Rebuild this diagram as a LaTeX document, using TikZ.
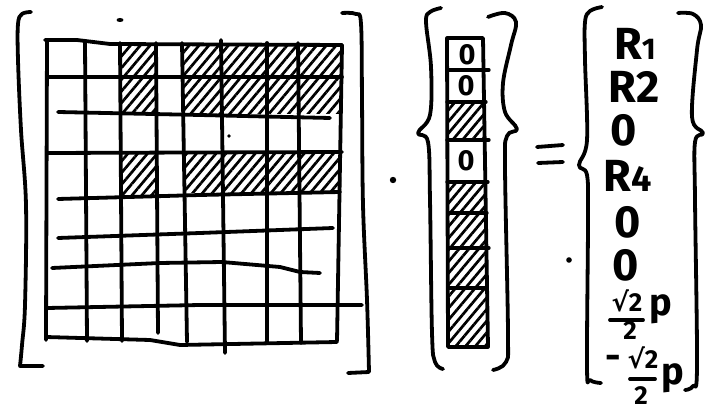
\documentclass[tikz,border=0pt]{standalone}
\usepackage{fontspec}
\setmainfont{Fira Sans}
\newfontfamily\symf{DejaVu Sans}
\usetikzlibrary{patterns.meta}
\tikzset{
  pen/.style={line width=3.8pt, line cap=round, line join=round},
  thinpen/.style={line width=3.2pt, line cap=round, line join=round},
  hatch/.style={pattern={Lines[angle=50,distance=7.5pt,line width=2.7pt]}, pattern color=black},
  txt/.style={inner sep=0pt, font=\fontsize{45}{45}\selectfont\bfseries},
  celltxt/.style={inner sep=0pt, font=\fontsize{29}{29}\selectfont\bfseries},
  fractxt/.style={inner sep=0pt, font=\fontsize{26}{26}\selectfont\bfseries},
  ptxt/.style={inner sep=0pt, font=\fontsize{38}{38}\selectfont\bfseries},
  spot/.style={fill=black}
}
\begin{document}
\begin{tikzpicture}[x=1pt,y=-1pt]
\useasboundingbox (0,0) rectangle (708,411);
% ---------- matrix hatching ----------
\fill[hatch] (121,44) rectangle (156,113);
\fill[hatch] (183,45) rectangle (341,114);
\fill[hatch] (121,154) rectangle (157,196);
\fill[hatch] (183,153) rectangle (341,193);
% ---------- matrix grid ----------
\draw[pen] (47,41) -- (46,340);
\draw[pen] (85,42) -- (87,341);
\draw[pen] (120,43) -- (122,341);
\draw[pen] (156,43) -- (158,333);
\draw[pen] (182,43) -- (187,342);
\draw[pen] (221,40) -- (225,353);
\draw[pen] (267,43) -- (267,343);
\draw[pen] (298,43) -- (301,343);
\draw[pen] (342,45) -- (337,341);
\draw[pen] (45,40) -- (77,40) -- (110,44) -- (342,45);
\draw[pen] (47,77) -- (342,77);
\draw[pen] (58,112) -- (200,115) -- (330,118);
\draw[pen] (47,153) -- (342,152);
\draw[pen] (58,199) -- (200,195) -- (340,192);
\draw[pen] (58,238) -- (200,233) -- (333,228);
\draw[pen] (52,268) -- (160,263) -- (222,262) -- (280,267) -- (300,272) -- (320,273);
\draw[pen] (47,308) -- (200,305) -- (362,305);
\draw[pen] (46,337) -- (150,340) -- (180,345) -- (337,342);
% ---------- matrix brackets ----------
\draw[pen] plot[smooth, tension=0.6] coordinates {(31,12) (22,14) (18,24) (18,60) (21,130) (26,205) (25,305) (22,345) (20,366)} -- (43,366);
\draw[pen] plot[smooth, tension=0.6] coordinates {(342,13) (356,14) (361,24) (362,100) (363,205) (367,300) (369,372)} -- (348,373);
% ---------- dots ----------
\fill[spot] (120,20) ellipse (3.5pt and 2pt);
\fill[spot] (229,136) circle (1.8pt);
\fill[spot] (393,180) circle (3.2pt);
\fill[spot] (569,260) circle (2.8pt);
% ---------- vector ----------
\fill[hatch] (448,103) rectangle (484,139);
\fill[hatch] (449,183) -- (486,183) -- (487,346) -- (449,346) -- cycle;
\draw[pen] (447,38) -- (483,38) -- (488,347) -- (448,347) -- cycle;
\draw[thinpen] (447,70) -- (489,70);
\draw[thinpen] (447,102) -- (486,102);
\draw[thinpen] (447,140) -- (489,140);
\draw[thinpen] (447,182) -- (488,182);
\draw[thinpen] (448,213) -- (487,213);
\draw[thinpen] (448,248) -- (489,248);
\draw[thinpen] (448,288) -- (487,288);
\node[celltxt] (v1) at (467,55) {0};
\node[celltxt] (v2) at (466,86) {0};
\node[celltxt] (v4) at (466,161) {0};
% vector braces
\draw[pen] plot[smooth, tension=0.6] coordinates {(441,8) (430,12) (426,22) (431,67) (430,115) (418,133) (428,142) (430,200) (432,333) (435,362) (443,369)};
\draw[pen] plot[smooth, tension=0.6] coordinates {(488,17) (505,13) (516,22) (511,45) (503,83) (505,112) (517,129) (507,136) (505,167) (508,333) (506,362) (493,370)};
% ---------- equals ----------
\draw[pen] (537,147) -- (563,145);
\draw[pen] (538,163) -- (563,162);
% ---------- result braces ----------
\draw[pen] plot[smooth, tension=0.6] coordinates {(602,7) (590,11) (585,22) (585,60) (587,140) (579,165) (587,175) (588,220) (587,367) (590,380) (601,383)};
\draw[pen] plot[smooth, tension=0.6] coordinates {(678,13) (693,14) (701,25) (697,50) (692,117) (703,133) (695,142) (695,200) (697,367) (693,386) (685,390)};
% ---------- result entries ----------
\node[txt] (r1) at (635,44) {R{\fontsize{30}{30}\selectfont 1}};
\node[txt] (r2) at (634,87) {R2};
\node[txt] (r3) at (624,130) {0};
\node[txt] (r4) at (628,176) {R{\fontsize{36}{36}\selectfont 4}};
\node[txt] (r5) at (628,222) {0};
\node[txt] (r6) at (626,265) {0};
\node[fractxt] (n7) at (627,301) {{\symf\bfseries √}2};
\draw[pen] (610,320) -- (643,320);
\node[fractxt] (d7) at (630,331) {2};
\node[ptxt] (p7) at (661,309) {p};
\node[ptxt] (m8) at (613,362) {-};
\node[fractxt] (n8) at (643,358) {{\symf\bfseries √}2};
\draw[pen] (630,379) -- (655,379);
\node[fractxt] (d8) at (641,396) {2};
\node[ptxt] (p8) at (673,378) {p};
\end{tikzpicture}
\end{document}
